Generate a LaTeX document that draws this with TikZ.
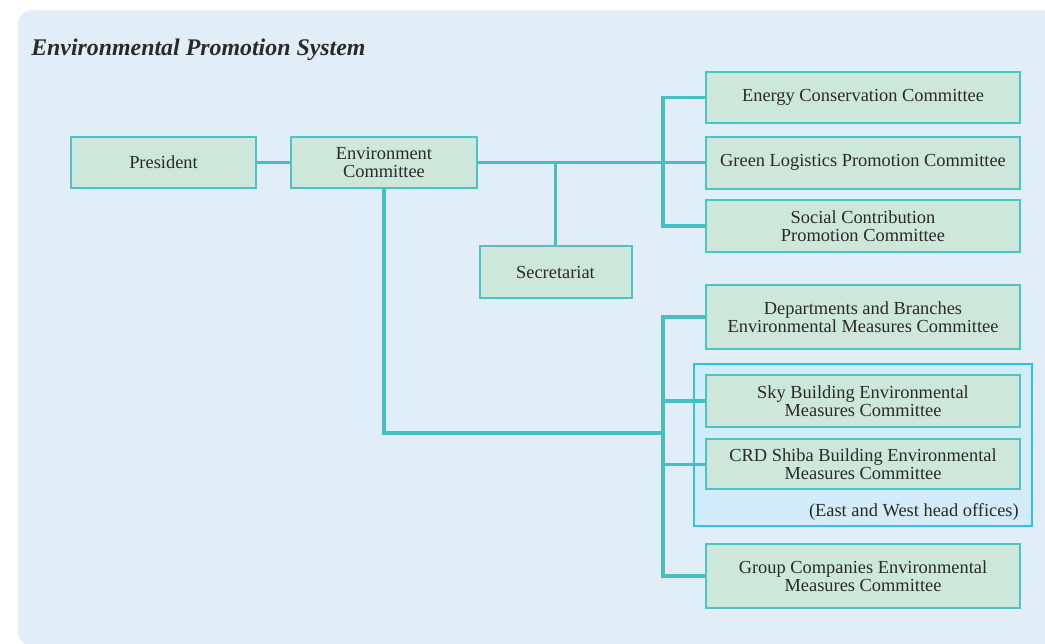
\documentclass[tikz,border=0pt]{standalone}
\usepackage{fontspec}
\setmainfont{Liberation Serif}
\definecolor{panel}{HTML}{E1EDF7}
\definecolor{boxfill}{HTML}{CDE8DB}
\definecolor{boxline}{HTML}{4EC2C4}
\definecolor{link}{HTML}{45BFC1}
\definecolor{hqfill}{HTML}{D2ECF9}
\definecolor{hqline}{HTML}{2BC3EE}
\definecolor{ink}{HTML}{2A2A2A}
\begin{document}
\begin{tikzpicture}[x=0.75pt,y=-0.75pt,
  every node/.style={font=\fontsize{13.8}{13.3}\selectfont,text=ink},
  box/.style={draw=boxline,fill=boxfill,line width=1.5pt,align=center,inner sep=0pt,
    minimum width=235.5pt,minimum height=39pt},
  wire/.style={draw=link,line width=2.6pt},
  hq/.style={draw=hqline,fill=hqfill,line width=1.6pt}]
 \useasboundingbox (0,0) rectangle (1045,643);
 \fill[panel,rounded corners=11.25pt] (18,10) rectangle (1080,646);
 \node[anchor=base west,inner sep=0pt,font=\fontsize{17.9}{20}\selectfont\bfseries\itshape] (title) at (31,55) {Environmental Promotion System};
 % head office frame
 \draw[hq] (694,364) rectangle (1032,526);
 \node[anchor=base east,inner sep=0pt] (hqnote) at (1019,516) {(East and West head offices)};
 % left side
 \node[box,minimum width=138.75pt,minimum height=38.25pt] (pres) at (163.5,162.5) {President};
 \node[box,minimum width=139.5pt,minimum height=38.25pt] (envc) at (384,162.5) {Environment\\Committee};
 \node[box,minimum width=114pt] (secr) at (555.5,272) {Secretariat};
 % committees
 \node[box,minimum height=38.25pt] (energy) at (863,97.5) {Energy Conservation Committee};
 \node[box] (green) at (863,162.5) {Green Logistics Promotion Committee};
 \node[box] (social) at (863,226) {Social Contribution\\Promotion Committee};
 \node[box,minimum height=48pt] (dept) at (863,317) {Departments and Branches\\Environmental Measures Committee};
 \node[box] (sky) at (863,401) {Sky Building Environmental\\Measures Committee};
 \node[box,minimum height=37.5pt] (crd) at (863,464.3) {CRD Shiba Building Environmental\\Measures Committee};
 \node[box,minimum height=48pt] (group) at (863,576) {Group Companies Environmental\\Measures Committee};
 \coordinate (bus) at (663,0);
 \coordinate (join) at (663,433);
 % connectors
 \draw[wire] (pres) -- (envc);
 \draw[wire] (envc) -- (green);
 \draw[wire] (secr.north) -- (secr.north |- envc.east);
 \draw[wire] (energy.west) -- (energy.west -| bus) |- (social.west);
 \draw[wire] (envc.south) |- (join);
 \draw[wire] (dept.west) -- (dept.west -| bus) |- (group.west);
 \draw[wire] (sky.west -| bus) -- (sky.west);
 \draw[wire] (crd.west -| bus) -- (crd.west);
\end{tikzpicture}
\end{document}
